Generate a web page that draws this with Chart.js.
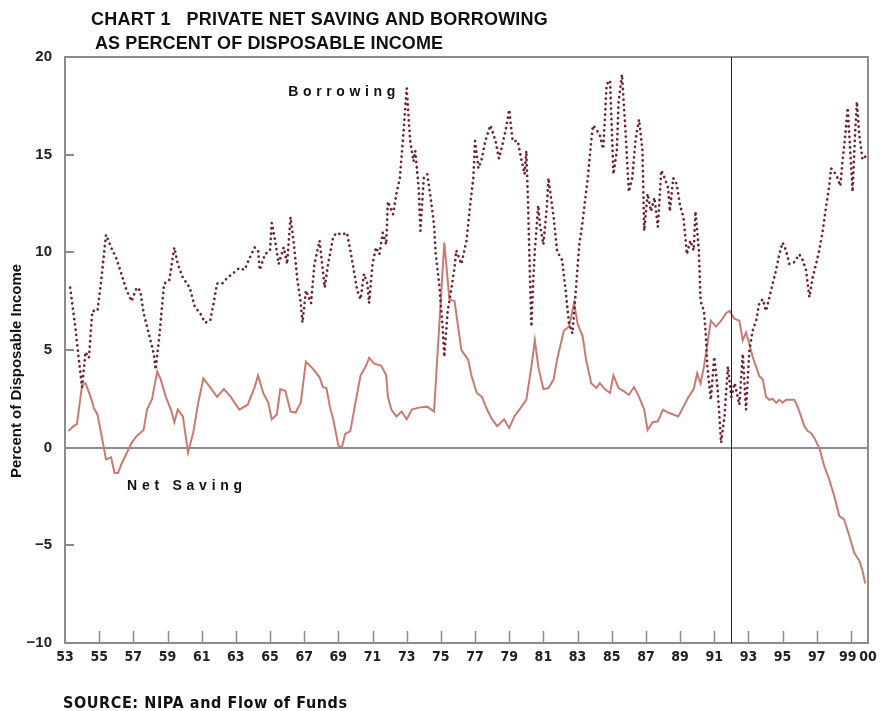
<!DOCTYPE html>
<html>
<head>
<meta charset="utf-8">
<script src="https://cdn.jsdelivr.net/npm/chart.js@4.4.1/dist/chart.umd.min.js"></script>
<style>
  html, body { margin: 0; padding: 0; background: #ffffff; }
  #wrap { position: relative; width: 880px; height: 711px; }
  canvas { display: block; }
</style>
</head>
<body>
<div id="wrap"><canvas id="c" width="880" height="711"></canvas></div>
<script>
// ---- Data (x = year, two-digit 1900s; 100 = 2000) ----
const savingYears = [53.2,53.5,53.7,54.0,54.2,54.5,54.7,54.9,55.2,55.4,55.7,55.9,56.1,56.3,56.6,56.9,57.2,57.6,57.8,58.1,58.2,58.4,58.6,58.9,59.2,59.4,59.6,59.9,60.2,60.5,60.8,61.1,61.4,61.9,62.3,62.7,63.2,63.7,64.1,64.3,64.6,64.9,65.1,65.4,65.6,65.9,66.2,66.5,66.8,67.1,67.5,67.9,68.1,68.3,68.5,68.7,69.0,69.2,69.4,69.7,70.0,70.3,70.6,70.8,71.1,71.5,71.8,71.9,72.1,72.4,72.7,73.0,73.3,73.7,74.2,74.6,75.2,75.5,75.8,76.2,76.6,76.8,77.1,77.4,77.7,78.0,78.3,78.7,79.0,79.3,79.6,80.0,80.3,80.5,80.7,81.0,81.3,81.6,81.8,82.2,82.5,82.8,83.0,83.3,83.5,83.8,84.1,84.3,84.6,84.9,85.1,85.4,85.7,86.0,86.3,86.6,86.9,87.1,87.4,87.7,88.0,88.3,88.6,88.9,89.2,89.5,89.8,90.0,90.2,90.4,90.6,90.8,91.1,91.4,91.7,91.9,92.18,92.47,92.67,92.86,93.06,93.25,93.45,93.64,93.84,94.03,94.23,94.42,94.62,94.81,95.0,95.2,95.4,95.69,95.88,96.08,96.27,96.47,96.66,96.86,97.05,97.15,97.44,97.73,98.03,98.32,98.6,98.9,99.2,99.5,99.68,99.84];
const savingValues = [0.85,1.1,1.2,3.2,3.3,2.6,2.0,1.7,0.35,-0.6,-0.5,-1.3,-1.3,-0.85,-0.3,0.25,0.6,0.9,1.95,2.5,3.0,3.9,3.5,2.6,1.95,1.3,1.95,1.6,-0.25,0.75,2.3,3.55,3.2,2.6,3.0,2.6,1.95,2.2,3.1,3.7,2.8,2.3,1.45,1.7,3.0,2.9,1.85,1.8,2.3,4.4,4.05,3.6,3.1,3.05,2.1,1.45,0.1,0.0,0.7,0.85,2.3,3.7,4.15,4.6,4.3,4.2,3.7,2.6,1.95,1.6,1.85,1.45,1.95,2.05,2.1,1.85,10.5,7.6,7.5,5.0,4.5,3.65,2.8,2.6,1.95,1.45,1.1,1.45,1.0,1.6,1.95,2.45,4.15,5.5,4.15,3.0,3.05,3.5,4.5,6.0,6.2,7.4,6.35,5.7,4.5,3.3,3.05,3.3,3.0,2.8,3.7,3.05,2.9,2.7,3.1,2.6,1.95,0.9,1.3,1.35,1.95,1.8,1.7,1.6,2.1,2.6,3.0,3.8,3.3,4.15,5.3,6.5,6.2,6.5,6.9,7.0,6.6,6.5,5.5,5.9,5.3,4.65,4.15,3.65,3.5,2.6,2.45,2.5,2.3,2.45,2.3,2.45,2.45,2.45,2.1,1.6,1.1,0.85,0.75,0.5,0.15,0.0,-0.95,-1.63,-2.5,-3.5,-3.67,-4.5,-5.4,-5.8,-6.3,-6.95];

const borrowingYears = [53.3,53.6,53.8,54.0,54.2,54.4,54.6,54.9,55.1,55.4,55.7,56.0,56.3,56.6,56.9,57.2,57.4,57.6,57.9,58.2,58.3,58.5,58.8,59.1,59.4,59.6,59.9,60.3,60.6,60.9,61.2,61.5,61.7,61.9,62.2,62.5,62.8,63.2,63.5,63.8,64.1,64.3,64.4,64.7,65.0,65.1,65.3,65.5,65.8,66.0,66.2,66.4,66.6,66.8,66.9,67.1,67.4,67.6,67.9,68.2,68.4,68.7,68.9,69.2,69.5,69.7,69.9,70.1,70.3,70.5,70.7,70.8,71.0,71.2,71.4,71.6,71.8,71.9,72.2,72.4,72.6,72.8,73.0,73.2,73.4,73.5,73.7,73.8,74.0,74.2,74.4,74.6,74.7,74.9,75.1,75.2,75.4,75.6,75.8,75.9,76.2,76.5,76.7,76.9,77.0,77.2,77.4,77.6,77.9,78.2,78.4,78.6,78.8,79.0,79.2,79.5,79.7,79.9,80.0,80.1,80.2,80.3,80.4,80.5,80.7,80.8,81.0,81.2,81.3,81.4,81.6,81.8,81.9,82.1,82.3,82.5,82.7,82.9,83.1,83.3,83.5,83.6,83.8,83.9,84.1,84.3,84.5,84.6,84.7,84.9,85.1,85.3,85.4,85.6,85.8,86.0,86.2,86.4,86.6,86.8,86.9,87.1,87.3,87.5,87.7,87.9,88.1,88.3,88.4,88.6,88.8,89.0,89.2,89.4,89.6,89.8,89.9,90.1,90.2,90.4,90.5,90.6,90.8,91.0,91.2,91.4,91.6,91.8,92.0,92.2,92.47,92.67,92.86,93.06,93.25,93.45,93.64,93.84,94.03,94.23,94.42,94.62,94.81,95.0,95.2,95.4,95.69,95.98,96.18,96.37,96.57,96.76,96.96,97.15,97.35,97.54,97.73,97.84,98.03,98.22,98.38,98.51,98.67,98.81,98.96,99.1,99.24,99.35,99.49,99.68,99.84];
const borrowingValues = [8.2,6.2,4.6,3.1,4.9,4.6,7.0,7.0,8.4,10.9,10.25,9.7,8.9,8.05,7.5,8.2,8.05,6.9,5.85,4.8,4.0,5.5,8.4,8.55,10.25,9.4,8.7,8.2,7.2,6.9,6.4,6.5,7.4,8.4,8.4,8.7,8.9,9.2,9.1,9.7,10.25,10.1,9.1,9.9,10.1,11.5,10.6,9.4,10.25,9.4,11.8,10.4,8.6,7.4,6.4,8.05,7.4,9.4,10.6,8.2,9.4,10.8,11.0,10.9,11.0,10.1,9.1,8.05,7.6,8.9,8.4,7.4,9.4,10.25,9.9,11.0,10.4,12.6,11.95,13.0,13.8,16.0,18.4,15.7,14.65,15.2,13.3,11.1,13.8,14.0,12.8,11.4,9.9,8.4,6.2,4.65,7.0,8.05,9.2,10.1,9.4,10.6,12.3,13.8,15.7,14.3,14.8,15.7,16.5,15.7,14.8,15.5,16.3,17.3,15.7,15.7,14.8,14.0,15.2,12.6,9.2,6.2,8.4,10.1,12.4,11.4,10.4,12.3,13.8,13.1,11.8,10.1,9.9,9.6,8.05,6.35,5.85,8.05,10.4,11.6,13.1,13.8,15.7,16.5,16.3,16.0,15.3,16.8,18.6,18.8,14.0,15.2,17.7,19.1,16.3,13.1,13.8,15.8,16.8,15.2,11.1,13.0,12.1,12.8,11.3,14.2,13.8,13.3,12.1,13.8,13.5,12.4,11.8,9.9,10.6,10.1,12.1,10.1,7.5,7.0,5.85,4.15,2.45,4.65,3.0,0.25,1.6,4.15,2.6,3.3,2.2,4.8,1.95,5.0,6.0,6.5,7.4,7.6,7.0,7.7,8.4,9.1,9.9,10.5,10.1,9.4,9.5,9.9,9.6,9.1,7.7,8.7,9.4,10.1,11.1,12.3,13.4,14.3,14.1,13.8,13.4,14.7,16.0,17.4,15.2,13.1,16.0,17.7,16.0,14.75,14.9];

const xTickValues = [53,55,57,59,61,63,65,67,69,71,73,75,77,79,81,83,85,87,89,91,93,95,97,99,100];
const yTickValues = [-10,-5,0,5,10,15,20];
const breakYear = 92;
const titleLines = ["CHART 1   PRIVATE NET SAVING AND BORROWING", "AS PERCENT OF DISPOSABLE INCOME"];
const yAxisTitle = "Percent of Disposable Income";
const sourceText = "SOURCE: NIPA and Flow of Funds";
const seriesNames = ["Borrowing", "Net Saving"];
const labelAnchors = [[69.2, 18.2], [60.0, -1.95]];

const toPoints = (xs, ys) => xs.map((x, i) => ({ x: x, y: ys[i] }));

const AXIS_GRAY = '#8c8c8c';
const NARROW = "'DejaVu Sans Condensed', 'Liberation Sans Narrow', 'Arial Narrow', sans-serif";
const SANS = "'Liberation Sans', Arial, Helvetica, sans-serif";

// draw text stretched (via letter spacing) to a target width
function fitText(ctx, text, x, y, width) {
  ctx.letterSpacing = '0px';
  const w0 = ctx.measureText(text).width;
  const sp = (width - w0) / Math.max(1, text.length - 1);
  ctx.letterSpacing = sp.toFixed(2) + 'px';
  ctx.fillText(text, x, y);
  ctx.letterSpacing = '0px';
}

const decor = {
  id: 'decor',
  afterDatasetsDraw(chart) {
    const { ctx, chartArea: a, scales: { x, y } } = chart;
    ctx.save();
    // inner tick marks
    ctx.strokeStyle = AXIS_GRAY;
    ctx.lineWidth = 1.5;
    xTickValues.forEach(v => {
      if (v === 53 || v === 100) return;
      const px = Math.round(x.getPixelForValue(v)) + 0.5;
      ctx.beginPath(); ctx.moveTo(px, a.bottom); ctx.lineTo(px, a.bottom - 12); ctx.stroke();
    });
    ctx.lineWidth = 2;
    yTickValues.forEach(v => {
      const py = Math.round(y.getPixelForValue(v));
      ctx.beginPath(); ctx.moveTo(a.left, py); ctx.lineTo(a.left + 9, py); ctx.stroke();
    });
    // frame
    ctx.lineWidth = 2;
    ctx.strokeRect(a.left, a.top, a.right - a.left, a.bottom - a.top);
    // break line
    const bx = Math.round(x.getPixelForValue(breakYear)) + 0.5;
    ctx.strokeStyle = '#222222';
    ctx.lineWidth = 1;
    ctx.beginPath(); ctx.moveTo(bx, a.top); ctx.lineTo(bx, a.bottom); ctx.stroke();
    // series labels
    ctx.fillStyle = '#111111';
    ctx.font = "bold 14px " + SANS;
    ctx.textAlign = 'left';
    ctx.textBaseline = 'middle';
    const widths = [107, 115];
    seriesNames.forEach((name, i) => {
      const cx = x.getPixelForValue(labelAnchors[i][0]);
      const cy = y.getPixelForValue(labelAnchors[i][1]);
      fitText(ctx, name, cx - widths[i] / 2, cy, widths[i]);
    });
    // title
    ctx.font = "bold 18px " + SANS;
    fitText(ctx, titleLines[0], 91, 20, 457);
    fitText(ctx, titleLines[1], 95, 44, 348);
    // y-axis title
    ctx.save();
    ctx.translate(17, 371);
    ctx.rotate(-Math.PI / 2);
    ctx.textAlign = 'center';
    ctx.font = "bold 15px " + SANS;
    ctx.fillText(yAxisTitle, 0, 0);
    ctx.restore();
    // source
    ctx.font = "bold 16px " + NARROW;
    fitText(ctx, sourceText, 63, 704, 284);
    ctx.restore();
  }
};

new Chart(document.getElementById('c'), {
  type: 'line',
  data: {
    datasets: [
      {
        label: seriesNames[0],
        data: toPoints(borrowingYears, borrowingValues),
        borderColor: '#6e2236',
        borderWidth: 2.7,
        borderDash: [0.1, 5.2],
        borderCapStyle: 'round',
        pointRadius: 0,
        tension: 0,
        fill: false
      },
      {
        label: seriesNames[1],
        data: toPoints(savingYears, savingValues),
        borderColor: '#c97b72',
        borderWidth: 2,
        pointRadius: 0,
        tension: 0,
        fill: false
      }
    ]
  },
  options: {
    responsive: false,
    animation: false,
    devicePixelRatio: 1,
    layout: { padding: { top: 57, right: 12, left: 0, bottom: 0 } },
    plugins: { legend: { display: false }, tooltip: { enabled: false }, title: { display: false } },
    scales: {
      x: {
        type: 'linear',
        min: 53,
        max: 100,
        afterBuildTicks: (s) => { s.ticks = xTickValues.map(v => ({ value: v })); },
        afterFit: (s) => { s.height = 68; s.paddingLeft = 0; s.paddingRight = 0; },
        grid: { display: false, drawTicks: false },
        border: { display: false },
        ticks: {
          autoSkip: false,
          maxRotation: 0,
          padding: 6,
          color: '#222222',
          font: { family: NARROW, size: 14, weight: 'bold' },
          callback: (v) => v === 99 ? '99\u2002' : String(v % 100).padStart(2, '0')
        }
      },
      y: {
        min: -10,
        max: 20,
        afterBuildTicks: (s) => { s.ticks = yTickValues.map(v => ({ value: v })); },
        afterFit: (s) => { s.width = 65; s.paddingTop = 0; s.paddingBottom = 0; },
        grid: {
          drawTicks: false,
          color: (c) => (c.tick && c.tick.value === 0) ? AXIS_GRAY : 'rgba(0,0,0,0)',
          lineWidth: (c) => (c.tick && c.tick.value === 0) ? 2 : 0
        },
        border: { display: false },
        title: { display: false },
        ticks: {
          padding: 13,
          color: '#222222',
          font: { family: SANS, size: 15, weight: 'bold' },
          callback: (v) => v < 0 ? '\u2212' + (-v) : String(v)
        }
      }
    }
  },
  plugins: [decor]
});
</script>
</body>
</html>
